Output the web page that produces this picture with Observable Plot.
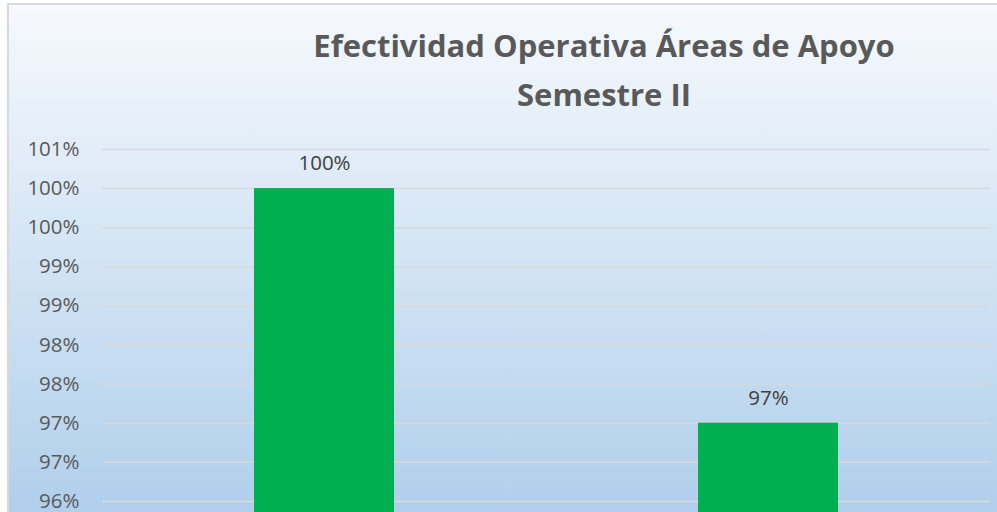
<!DOCTYPE html>
<html>
<head>
<meta charset="utf-8">
<script src="https://cdn.jsdelivr.net/npm/d3@7"></script>
<script src="https://cdn.jsdelivr.net/npm/@observablehq/plot@0.6"></script>
<style>
  html, body { margin: 0; padding: 0; background: #ffffff; }
  #page { position: relative; width: 997px; height: 512px; overflow: hidden; background: #ffffff; }
  #box {
    position: absolute; left: 7px; top: 3px; width: 1000px; height: 520px;
    border: 2px solid #d9d9d9; box-sizing: border-box;
    background: linear-gradient(to bottom, #f6f9fd 0px, #b0cfeb 507px);
  }
  #title {
    position: absolute; left: 211px; top: 21px; width: 786px; text-align: center;
    font-family: "Open Sans", Lato, sans-serif; font-weight: 700; font-size: 31px;
    line-height: 49px; color: #595959; white-space: nowrap;
  }
  #chart { position: absolute; left: 0; top: 0; }
</style>
</head>
<body>
<div id="page">
  <div id="box"></div>
  <div id="title">Efectividad Operativa Áreas de Apoyo<br>Semestre II</div>
  <div id="chart"></div>
</div>
<script>
// Data
const categories = ["Área 1", "Área 2"];
const values = [100, 97];            // percent
const barLabels = ["100%", "97%"];
const yTicks = [96, 96.5, 97, 97.5, 98, 98.5, 99, 99.5, 100, 100.5];
const yTickLabels = ["96%", "97%", "97%", "98%", "98%", "99%", "99%", "100%", "100%", "101%"];

const rows = categories.map((c, i) => ({category: c, value: values[i], label: barLabels[i]}));
const tickLabel = new Map(yTicks.map((t, i) => [t, yTickLabels[i]]));

const plot = Plot.plot({
  width: 997,
  height: 560,
  marginTop: 149,
  marginBottom: 20,
  marginLeft: 102,
  marginRight: 7,
  style: {background: "transparent", overflow: "visible", fontFamily: "'Open Sans', sans-serif"},
  x: {domain: categories, padding: 0, axis: null},
  y: {domain: [95.5, 100.5]},
  marks: [
    Plot.ruleY(yTicks, {stroke: "#d9d9d9", strokeWidth: 1.5}),
    Plot.axisY({
      ticks: yTicks,
      tickSize: 0,
      tickPadding: 23,
      tickFormat: d => tickLabel.get(d),
      fontSize: 20.5,
      fill: "#595959",
      label: null
    }),
    Plot.barY(rows, {x: "category", y1: 95.5, y2: "value", fill: "#00b050", insetLeft: 152, insetRight: 152}),
    Plot.text(rows, {x: "category", y: "value", text: "label", dy: -25, fontSize: 20.5, fill: "#404040"})
  ]
});
document.getElementById("chart").appendChild(plot);
</script>
</body>
</html>
